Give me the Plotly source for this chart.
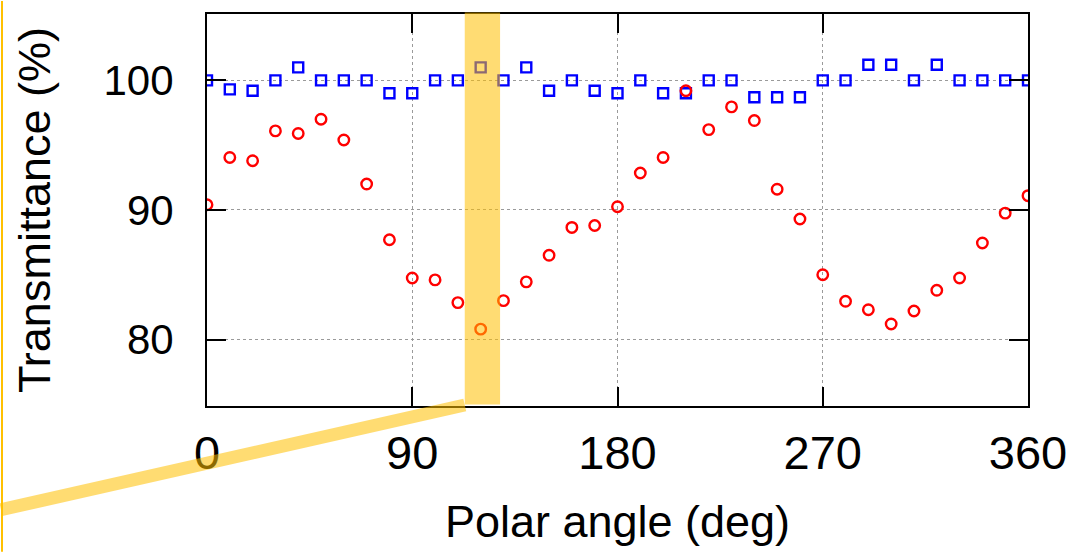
import plotly.graph_objects as go

angles = list(range(0, 361, 10))
blue_vals = [100, 99.3, 99.2, 100, 101.0, 100, 100, 100, 99.0, 99.0,
             100, 100, 101.0, 100, 101.0, 99.2, 100, 99.2, 99.0, 100,
             99.0, 99.0, 100, 100, 98.7, 98.7, 98.7, 100, 100, 101.2,
             101.2, 100, 101.2, 100, 100, 100, 100]
red_vals = [90.4, 94.05, 93.8, 96.1, 95.9, 97.0, 95.4, 92.0, 87.7, 84.75,
            84.6, 82.85, 80.8, 83.0, 84.45, 86.5, 88.65, 88.8, 90.25, 92.85,
            94.05, 99.2, 96.2, 97.95, 96.9, 91.6, 89.3, 85.0, 82.95, 82.3,
            81.2, 82.2, 83.8, 84.75, 87.45, 89.75, 91.1]
x_ticks = [0, 90, 180, 270, 360]
y_ticks = [80, 90, 100]

W, H = 1079, 552
L, R, T, B = 207, 1032, 13, 406
pw, ph = R - L, B - T

def px(x):
    return (x - L) / pw

def py(y):
    return (B - y) / ph

font = dict(family="Liberation Sans, Arial, Helvetica, sans-serif", color="black")

fig = go.Figure()
fig.add_trace(go.Scatter(x=angles, y=blue_vals, mode="markers",
                         marker=dict(symbol="square-open", size=10, color="#0000ff",
                                     line=dict(width=2.4, color="#0000ff")),
                         showlegend=False))
fig.add_trace(go.Scatter(x=angles, y=red_vals, mode="markers",
                         marker=dict(symbol="circle-open", size=10.5, color="#ff0000",
                                     line=dict(width=2.4, color="#ff0000")),
                         showlegend=False))

axis_common = dict(showline=True, linecolor="black", linewidth=2, mirror="ticks",
                   ticks="inside", ticklen=19, tickwidth=2, tickcolor="black",
                   showgrid=True, gridcolor="#9a9a9a", gridwidth=1, griddash="dot",
                   zeroline=False)

fig.update_xaxes(range=[0, 360], tickvals=x_ticks, ticktext=[str(v) for v in x_ticks],
                 tickfont=dict(size=47, **font), ticklabelstandoff=5,
                 title=dict(text="Polar angle (deg)", font=dict(size=45, **font), standoff=27),
                 **axis_common)
fig.update_yaxes(range=[74.87, 105.12], tickvals=y_ticks, ticktext=[str(v) for v in y_ticks],
                 tickfont=dict(size=42, **font), ticklabelstandoff=23,
                 title=dict(text="Transmittance (%)", font=dict(size=45, **font), standoff=39),
                 **axis_common)

hl = "#FFC000"
fig.add_shape(type="rect", xref="paper", yref="paper",
              x0=px(466), x1=px(501.5), y0=py(404.5), y1=py(11.5),
              fillcolor=hl, opacity=0.55, line=dict(width=0), layer="above")
fig.add_shape(type="line", xref="paper", yref="paper",
              x0=px(0), y0=py(510), x1=px(466), y1=py(405),
              line=dict(color=hl, width=13), opacity=0.55, layer="above")
fig.add_shape(type="line", xref="paper", yref="paper",
              x0=px(1), y0=py(0), x1=px(1), y1=py(552),
              line=dict(color=hl, width=2), opacity=1, layer="above")

fig.update_layout(width=W, height=H, margin=dict(l=L, r=W - R, t=T, b=H - B),
                  plot_bgcolor="white", paper_bgcolor="white", showlegend=False)

fig.write_html("out.html", config={"displayModeBar": False},
               post_script="document.body.style.margin='0';")
